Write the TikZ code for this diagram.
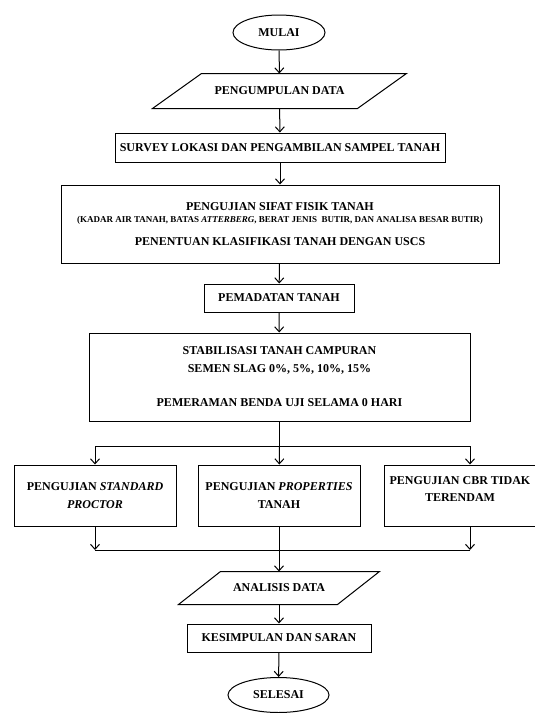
\documentclass[tikz,border=0pt]{standalone}
\usepackage{fontspec}
\setmainfont{Liberation Serif}
\usetikzlibrary{arrows.meta,shapes.geometric}

\begin{document}
\begin{tikzpicture}[x=1pt,y=-1pt,line width=1pt,>={Straight Barb[length=5pt,width=9pt]},
    font=\fontsize{12}{14}\selectfont\bfseries]
		\tikzstyle{kotak}=[draw,rectangle,align=center,inner sep=2pt]
		\tikzstyle{terminal}=[draw,ellipse,minimum width=92pt,minimum height=35pt,inner sep=0pt]
		\tikzstyle{masukan}=[rectangle,align=center,inner sep=0pt]
		\tikzstyle{uji}=[kotak,minimum width=162pt,minimum height=61pt]

		\useasboundingbox (0,0) rectangle (535,713);

		\node[terminal] (mulai) at (279,32.5) {MULAI};
		\node[masukan,minimum width=204pt,minimum height=34pt] (kumpul) at (279.5,91) {PENGUMPULAN DATA};
		\node[kotak,minimum width=330pt,minimum height=29pt] (survey) at (280,147.5)
			{SURVEY LOKASI DAN PENGAMBILAN SAMPEL TANAH};
		\node[kotak,minimum width=438pt,minimum height=78pt] (fisik) at (280,224)
			{PENGUJIAN SIFAT FISIK TANAH\\[-2pt]
			{\fontsize{9}{10}\selectfont (KADAR AIR TANAH, BATAS \textit{ATTERBERG}, BERAT JENIS\ \ BUTIR, DAN ANALISA BESAR BUTIR)}\\[9pt]
			PENENTUAN KLASIFIKASI TANAH DENGAN USCS};
		\node[kotak,minimum width=150pt,minimum height=28pt] (padat) at (279,298) {PEMADATAN TANAH};
		\node[kotak,minimum width=381pt,minimum height=88pt] (stab) at (279.5,377)
			{STABILISASI TANAH CAMPURAN\\[4pt]
			SEMEN SLAG 0\%, 5\%, 10\%, 15\%\\[20pt]
			PEMERAMAN BENDA UJI SELAMA 0 HARI};

		% tiga pengujian
		\node[uji] (proctor) at (95,495.5) {PENGUJIAN \textit{STANDARD}\\[4pt]\textit{PROCTOR}};
		\node[uji] (prop) at (279,495.5) {PENGUJIAN \textit{PROPERTIES}\\[4pt]TANAH};
		\node[uji,minimum width=172pt] (cbr) at (470,495.5) {};
		\node[align=center,inner sep=0pt] (cbrteks) at (460,489) {PENGUJIAN CBR TIDAK\\[3pt]TERENDAM};

		\node[masukan,minimum width=158pt,minimum height=32pt] (analisis) at (279,588) {ANALISIS DATA};
		\node[kotak,minimum width=184pt,minimum height=28pt] (simpul) at (279,638) {KESIMPULAN DAN SARAN};
		\node[terminal,minimum width=101pt] (selesai) at (278.5,695) {SELESAI};

		% jajaran genjang
		\draw ([xshift=24.5pt]kumpul.north west) -- ([xshift=24.5pt]kumpul.north east)
			-- ([xshift=-24.5pt]kumpul.south east) -- ([xshift=-24.5pt]kumpul.south west) -- cycle;
		\draw ([xshift=21pt]analisis.north west) -- ([xshift=21pt]analisis.north east)
			-- ([xshift=-21pt]analisis.south east) -- ([xshift=-21pt]analisis.south west) -- cycle;

		\coordinate (cabang) at (279.5,446);
		\coordinate (gabung) at (279,550);

		\draw[->] (mulai) -- (kumpul);
		\draw[->] (kumpul) -- (survey);
		\draw[->] (survey) -- (fisik);
		\draw[->] (fisik) -- (padat);
		\draw[->] (padat) -- (stab);
		\draw (stab) -- (cabang);
		\draw[->] (cabang) -| (proctor);
		\draw[->] (cabang) -- (prop);
		\draw[->] (cabang) -| (cbr);
		\draw[->] (proctor) -- (proctor |- gabung);
		\draw[->] (cbr) -- (cbr |- gabung);
		\draw (proctor |- gabung) -- (cbr |- gabung);
		\draw[->] (prop) -- (analisis);
		\draw[->] (analisis) -- (simpul);
		\draw[->] (simpul) -- (selesai);
\end{tikzpicture}
\end{document}
